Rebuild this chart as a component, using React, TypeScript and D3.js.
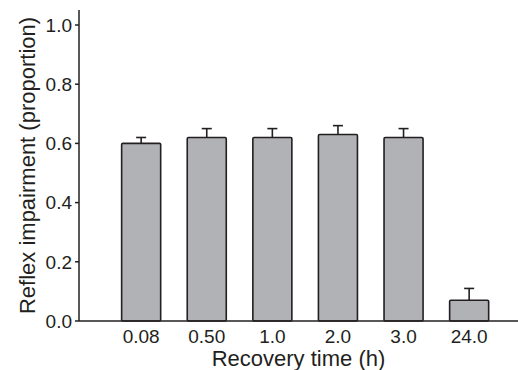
import React from 'react';
import * as d3 from 'd3';

// Bar chart of reflex impairment vs. recovery time, upward-only error bars.

const WIDTH = 518;
const HEIGHT = 370;
const MARGIN = { top: 10, right: 0, bottom: 49, left: 79 };

const CATEGORIES = ['0.08', '0.50', '1.0', '2.0', '3.0', '24.0'];
const MEANS = [0.6, 0.62, 0.62, 0.63, 0.62, 0.07];
const ERRORS = [0.02, 0.03, 0.03, 0.03, 0.03, 0.04];
const Y_TICKS = [0, 0.2, 0.4, 0.6, 0.8, 1.0];

const FONT = 'Liberation Sans, Arial, Helvetica, sans-serif';
const INK = '#231f20';

export default function App() {
  const x0 = MARGIN.left;
  const y0 = HEIGHT - MARGIN.bottom;

  const y = d3.scaleLinear().domain([0, 1]).range([y0, 25]);
  const yTop = y.invert(MARGIN.top);

  const x = d3
    .scaleBand<string>()
    .domain(CATEGORIES)
    .range([x0, x0 + 452.3])
    .paddingInner(0.405)
    .paddingOuter(0.65);

  const bw = x.bandwidth();
  const capHalf = 5;

  return (
    <svg
      width={WIDTH}
      height={HEIGHT}
      viewBox={`0 0 ${WIDTH} ${HEIGHT}`}
      style={{ position: 'absolute', left: 0, top: 0, background: '#fff' }}
      fontFamily={FONT}
    >
      {/* bars */}
      {CATEGORIES.map((c, i) => {
        const bx = x(c) ?? 0;
        const cx = bx + bw / 2;
        const top = y(MEANS[i]);
        const errTop = y(MEANS[i] + ERRORS[i]);
        return (
          <g key={c}>
            <line x1={cx} x2={cx} y1={top} y2={errTop} stroke={INK} strokeWidth={1.6} />
            <line
              x1={cx - capHalf}
              x2={cx + capHalf}
              y1={errTop}
              y2={errTop}
              stroke={INK}
              strokeWidth={1.6}
            />
            <rect
              x={bx}
              y={top}
              width={bw}
              height={y0 - top}
              rx={1.2}
              fill="#b1b2b6"
              stroke={INK}
              strokeWidth={1.6}
            />
          </g>
        );
      })}

      {/* y axis */}
      <line x1={x0} x2={x0} y1={y(yTop)} y2={y0} stroke={INK} strokeWidth={1.5} />
      {Y_TICKS.map((t) => (
        <g key={t} transform={`translate(0, ${y(t)})`}>
          <line x1={x0 - 4} x2={x0} stroke={INK} strokeWidth={1.5} />
          <text x={x0 - 7} dy="0.36em" textAnchor="end" fontSize={19} fill={INK}>
            {t.toFixed(1)}
          </text>
        </g>
      ))}

      {/* x axis */}
      <line x1={x0} x2={WIDTH} y1={y0} y2={y0} stroke={INK} strokeWidth={1.5} />
      {CATEGORIES.map((c) => (
        <text
          key={`xl-${c}`}
          x={(x(c) ?? 0) + bw / 2}
          y={342.5}
          textAnchor="middle"
          fontSize={19}
          fill={INK}
        >
          {c}
        </text>
      ))}

      <text x={(x0 + WIDTH) / 2} y={365.5} textAnchor="middle" fontSize={22} fill={INK}>
        Recovery time (h)
      </text>
      <text
        transform={`translate(35, ${(MARGIN.top + y0) / 2}) rotate(-90)`}
        textAnchor="middle"
        fontSize={22}
        fill={INK}
      >
        Reflex impairment (proportion)
      </text>
    </svg>
  );
}
